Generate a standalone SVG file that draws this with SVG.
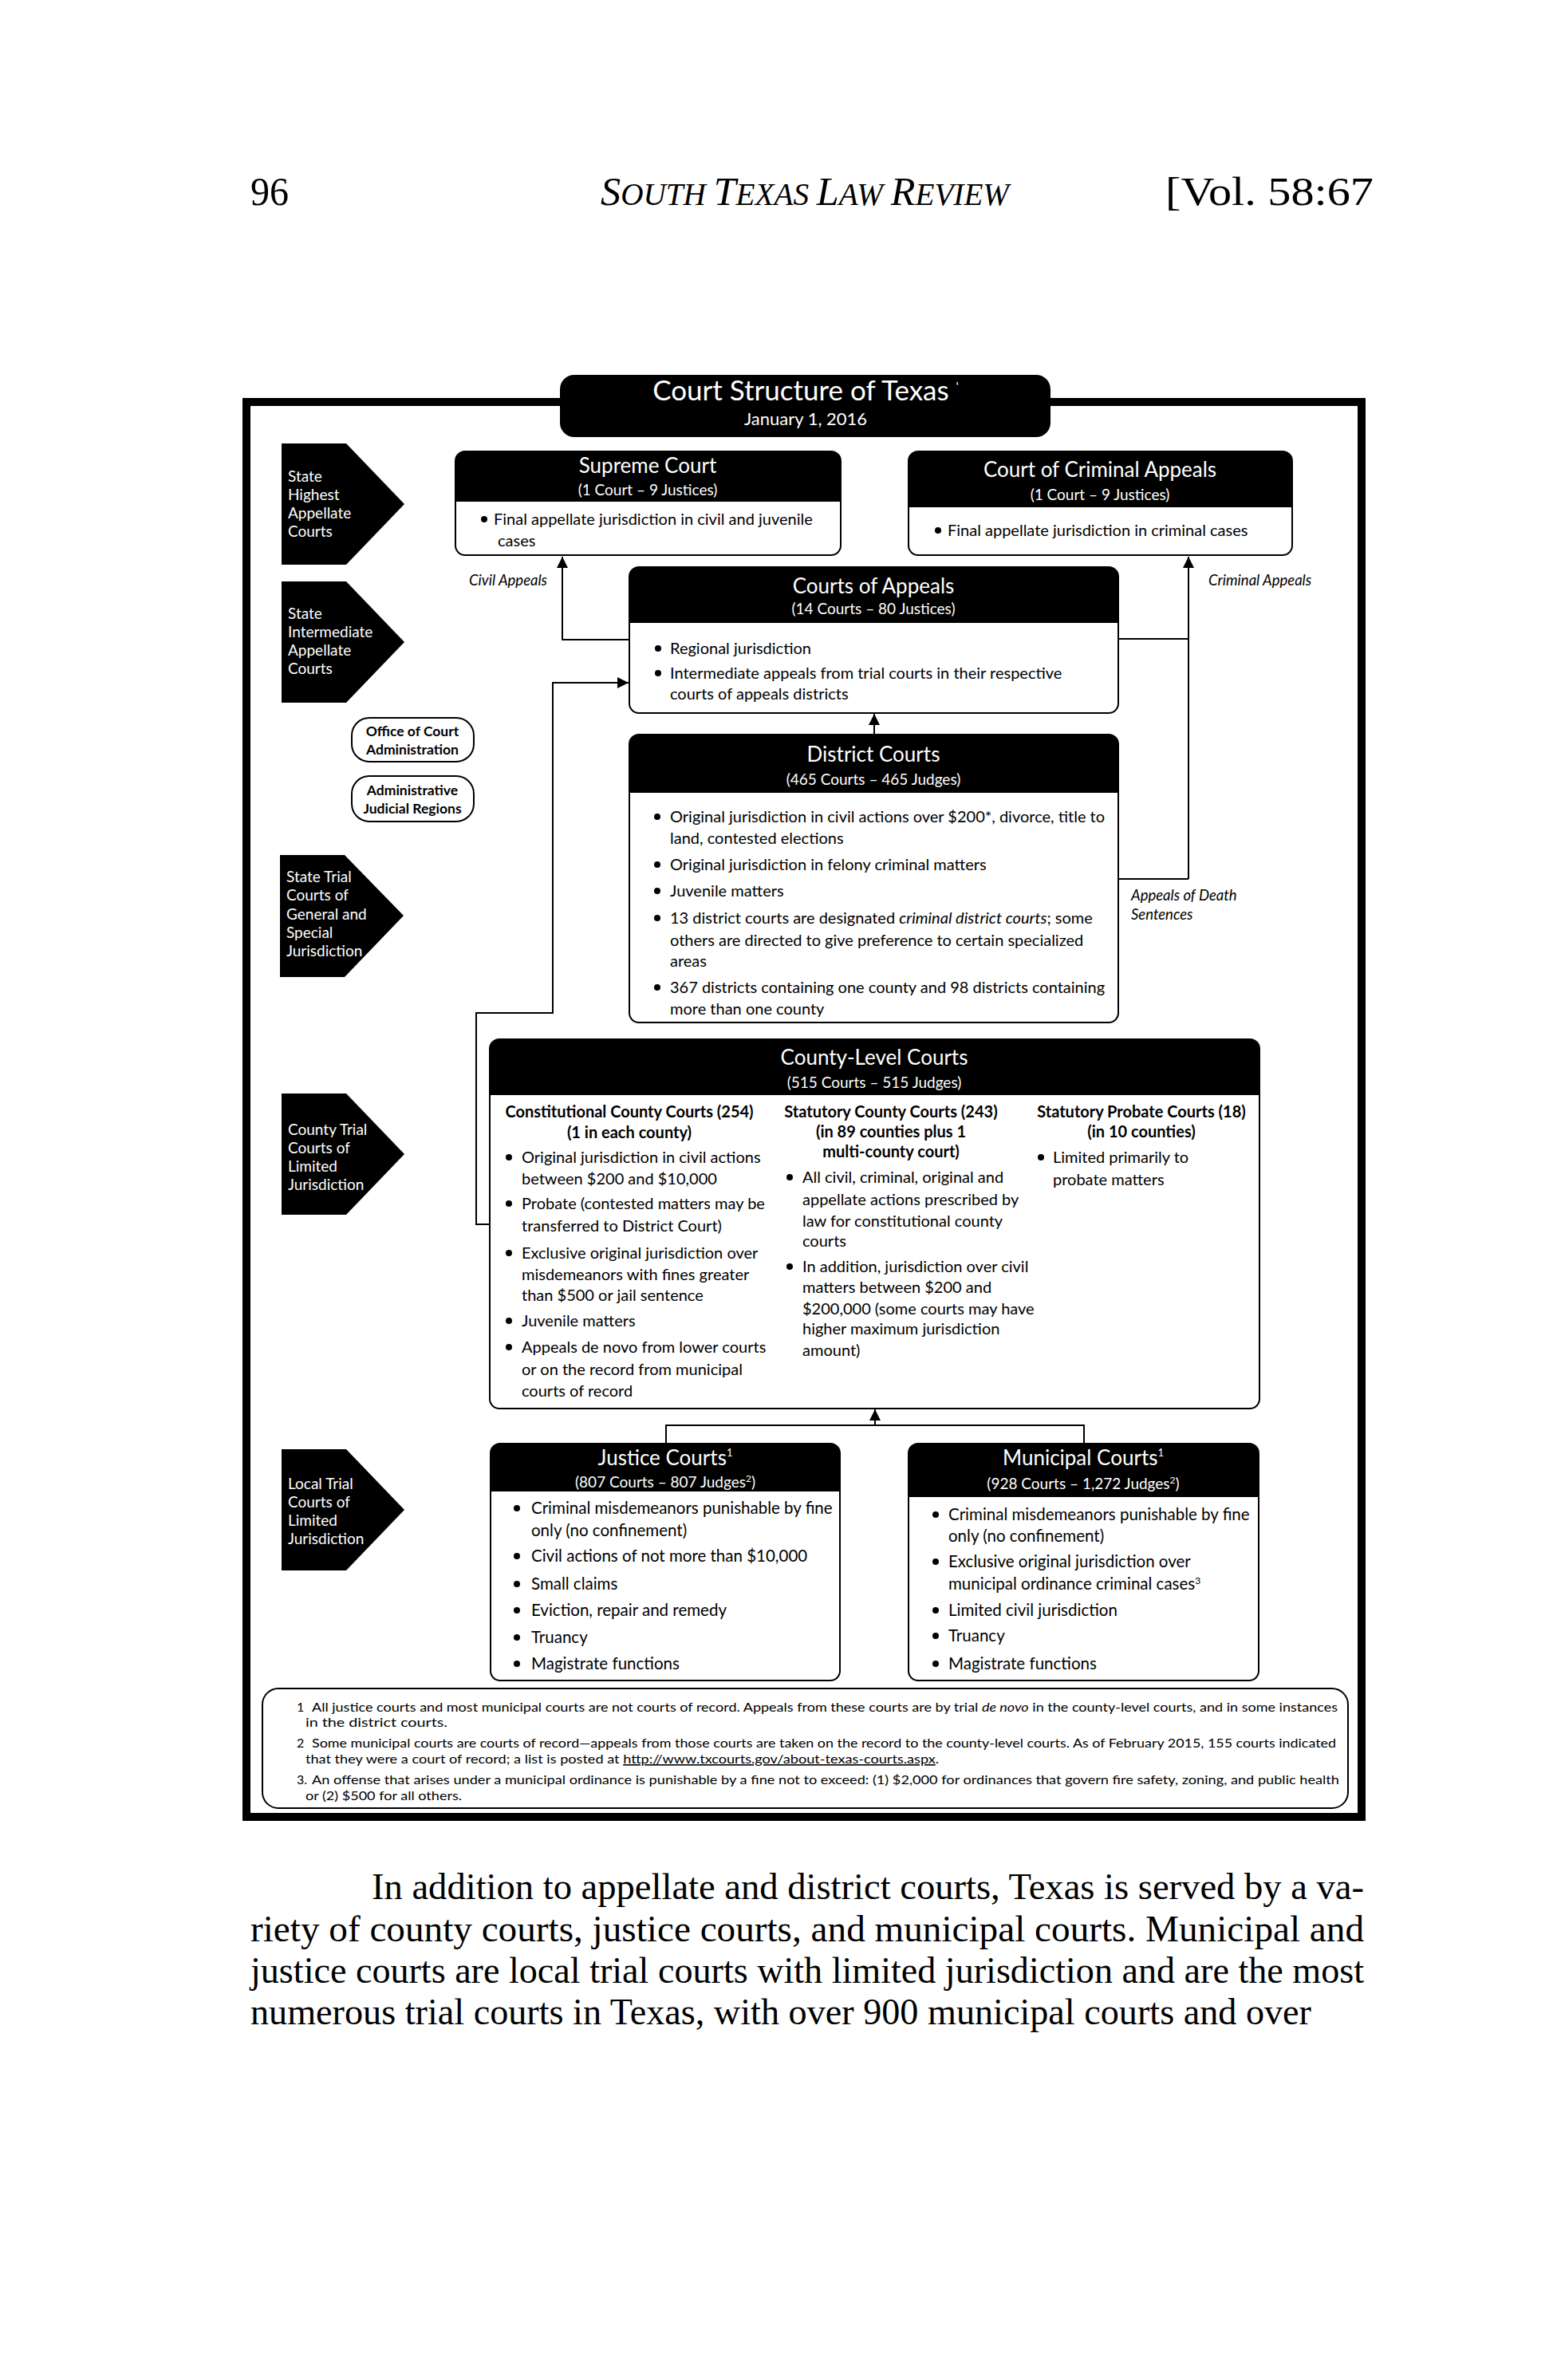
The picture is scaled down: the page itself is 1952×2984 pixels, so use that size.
<svg xmlns="http://www.w3.org/2000/svg" width="1952" height="2984" viewBox="0 0 1952 2984">
<defs>
<style>
.serif{font-family:"Liberation Serif","Times New Roman",serif;fill:#000}
.d{font-family:Lato,"Open Sans","Liberation Sans",sans-serif}
.ttl{font-size:26px;fill:#fff;text-anchor:middle}
.sub{font-size:19px;fill:#fff;text-anchor:middle}
.b{font-size:20px;fill:#000}
.bj{font-size:20.5px;fill:#000}
.ch{font-size:19px;fill:#fff}
.colh{font-size:20px;font-weight:bold;fill:#000;text-anchor:middle}
.ov{font-size:17.5px;font-weight:bold;fill:#000;text-anchor:middle}
.lab{font-size:18.5px;font-style:italic;fill:#000}
.fn{font-size:16px;fill:#000}
.box{fill:#fff;stroke:#000;stroke-width:2}
.hdr{fill:#000}
.chev{fill:#000}
.con{fill:none;stroke:#000;stroke-width:2}
</style>
<marker id="arr" markerUnits="userSpaceOnUse" markerWidth="16" markerHeight="14" refX="14" refY="7" orient="auto">
<path d="M0,0 L14,7 L0,14 Z" fill="#000"/>
</marker>
</defs>
<rect width="1952" height="2984" fill="#fff"/>

<g id="page-header" class="serif">
<text x="314" y="257" font-size="50" textLength="48" lengthAdjust="spacingAndGlyphs">96</text>
<text x="753" y="257" font-size="50" font-style="italic" textLength="512" lengthAdjust="spacingAndGlyphs">S<tspan font-size="39">OUTH </tspan>T<tspan font-size="39">EXAS </tspan>L<tspan font-size="39">AW </tspan>R<tspan font-size="39">EVIEW</tspan></text>
<text x="1461" y="257" font-size="50" textLength="261" lengthAdjust="spacingAndGlyphs">[Vol. 58:67</text>
</g>

<g id="frame">
<rect x="309" y="504" width="1398" height="1774" fill="none" stroke="#000" stroke-width="10"/>
</g>

<g id="title" class="d">
<rect x="702" y="470" width="615" height="78" rx="18" fill="#000"/>
<text x="1010" y="502" font-size="35" fill="#fff" text-anchor="middle">Court Structure of Texas <tspan font-size="16" dy="-12">'</tspan></text>
<text x="1010" y="533" font-size="22" fill="#fff" text-anchor="middle">January 1, 2016</text>
</g>

<g id="chevron-highest" class="d">
<polygon class="chev" points="353,556 434,556 507,632 434,708 353,708"/>
<text class="ch" x="361" y="604">State</text>
<text class="ch" x="361" y="627">Highest</text>
<text class="ch" x="361" y="650">Appellate</text>
<text class="ch" x="361" y="673">Courts</text>
</g>
<g id="chevron-intermediate" class="d">
<polygon class="chev" points="353,729 434,729 507,805 434,881 353,881"/>
<text class="ch" x="361" y="776">State</text>
<text class="ch" x="361" y="799">Intermediate</text>
<text class="ch" x="361" y="822">Appellate</text>
<text class="ch" x="361" y="845">Courts</text>
</g>
<g id="chevron-general" class="d">
<polygon class="chev" points="351,1072 432,1072 506,1148 432,1225 351,1225"/>
<text class="ch" x="359" y="1106">State Trial</text>
<text class="ch" x="359" y="1129">Courts of</text>
<text class="ch" x="359" y="1153">General and</text>
<text class="ch" x="359" y="1176">Special</text>
<text class="ch" x="359" y="1199">Jurisdiction</text>
</g>
<g id="chevron-county" class="d">
<polygon class="chev" points="353,1371 434,1371 507,1447 434,1523 353,1523"/>
<text class="ch" x="361" y="1423">County Trial</text>
<text class="ch" x="361" y="1446">Courts of</text>
<text class="ch" x="361" y="1469">Limited</text>
<text class="ch" x="361" y="1492">Jurisdiction</text>
</g>
<g id="chevron-local" class="d">
<polygon class="chev" points="353,1817 434,1817 507,1893 434,1969 353,1969"/>
<text class="ch" x="361" y="1867">Local Trial</text>
<text class="ch" x="361" y="1890">Courts of</text>
<text class="ch" x="361" y="1913">Limited</text>
<text class="ch" x="361" y="1936">Jurisdiction</text>
</g>

<g id="office-court-admin" class="d">
<rect class="box" x="441" y="900" width="153" height="55" rx="22"/>
<text class="ov" x="517" y="923">Office of Court</text>
<text class="ov" x="517" y="946">Administration</text>
</g>
<g id="admin-judicial-regions" class="d">
<rect class="box" x="441" y="973" width="153" height="57" rx="22"/>
<text class="ov" x="517" y="997">Administrative</text>
<text class="ov" x="517" y="1020">Judicial Regions</text>
</g>

<g id="connectors">
<path class="con" d="M789,802 H705 V698" marker-end="url(#arr)"/>
<path class="con" d="M1490,1102 V698" marker-end="url(#arr)"/>
<path class="con" d="M1402,801 H1490"/>
<path class="con" d="M1402,1102 H1490"/>
<path class="con" d="M1096,921 V895" marker-end="url(#arr)"/>
<path class="con" d="M614,1535 H597 V1270 H693 V856 H788" marker-end="url(#arr)"/>
<path class="con" d="M835,1810 V1787 H1359 V1810"/>
<path class="con" d="M1097,1787 V1767" marker-end="url(#arr)"/>
<text class="d lab" x="588" y="734">Civil Appeals</text>
<text class="d lab" x="1515" y="734">Criminal Appeals</text>
<text class="d lab" x="1418" y="1129">Appeals of Death</text>
<text class="d lab" x="1418" y="1153">Sentences</text>
</g>

<g id="supreme-court" class="d">
<rect class="box" x="571" y="566" width="483" height="130" rx="12"/>
<path class="hdr" d="M571,629 V578 A12,12 0 0 1 583,566 H1042 A12,12 0 0 1 1054,578 V629 Z"/>
<text class="ttl" x="812" y="593">Supreme Court</text>
<text class="sub" x="812" y="621">(1 Court – 9 Justices)</text>
<circle cx="607" cy="651" r="4"/>
<text class="b" x="619" y="658">Final appellate jurisdiction in civil and juvenile</text>
<text class="b" x="624" y="685">cases</text>
</g>

<g id="court-criminal-appeals" class="d">
<rect class="box" x="1139" y="566" width="481" height="130" rx="12"/>
<path class="hdr" d="M1139,636 V578 A12,12 0 0 1 1151,566 H1608 A12,12 0 0 1 1620,578 V636 Z"/>
<text class="ttl" x="1379" y="598" font-size="27">Court of Criminal Appeals</text>
<text class="sub" x="1379" y="627">(1 Court – 9 Justices)</text>
<circle cx="1176" cy="665" r="4"/>
<text class="b" x="1188" y="672">Final appellate jurisdiction in criminal cases</text>
</g>

<g id="courts-of-appeals" class="d">
<rect class="box" x="789" y="711" width="613" height="183" rx="12"/>
<path class="hdr" d="M789,781 V723 A12,12 0 0 1 801,711 H1390 A12,12 0 0 1 1402,723 V781 Z"/>
<text class="ttl" x="1095" y="744" font-size="27">Courts of Appeals</text>
<text class="sub" x="1095" y="770">(14 Courts – 80 Justices)</text>
<circle cx="825" cy="813" r="4"/>
<text class="b" x="840" y="820">Regional jurisdiction</text>
<circle cx="825" cy="844" r="4"/>
<text class="b" x="840" y="851">Intermediate appeals from trial courts in their respective</text>
<text class="b" x="840" y="877">courts of appeals districts</text>
</g>

<g id="district-courts" class="d">
<rect class="box" x="789" y="921" width="613" height="361" rx="12"/>
<path class="hdr" d="M789,994 V933 A12,12 0 0 1 801,921 H1390 A12,12 0 0 1 1402,933 V994 Z"/>
<text class="ttl" x="1095" y="955">District Courts</text>
<text class="sub" x="1095" y="984">(465 Courts – 465 Judges)</text>
<circle cx="824" cy="1024" r="4"/>
<text class="b" x="840" y="1031">Original jurisdiction in civil actions over $200*, divorce, title to</text>
<text class="b" x="840" y="1058">land, contested elections</text>
<circle cx="824" cy="1084" r="4"/>
<text class="b" x="840" y="1091">Original jurisdiction in felony criminal matters</text>
<circle cx="824" cy="1117" r="4"/>
<text class="b" x="840" y="1124">Juvenile matters</text>
<circle cx="824" cy="1151" r="4"/>
<text class="b" x="840" y="1158">13 district courts are designated <tspan font-style="italic">criminal district courts</tspan>; some</text>
<text class="b" x="840" y="1186">others are directed to give preference to certain specialized</text>
<text class="b" x="840" y="1212">areas</text>
<circle cx="824" cy="1238" r="4"/>
<text class="b" x="840" y="1245">367 districts containing one county and 98 districts containing</text>
<text class="b" x="840" y="1272">more than one county</text>
</g>

<g id="county-level-courts" class="d">
<rect class="box" x="614" y="1303" width="965" height="463" rx="12"/>
<path class="hdr" d="M614,1373 V1315 A12,12 0 0 1 626,1303 H1567 A12,12 0 0 1 1579,1315 V1373 Z"/>
<text class="ttl" x="1096" y="1335">County-Level Courts</text>
<text class="sub" x="1096" y="1364">(515 Courts – 515 Judges)</text>
<text class="colh" x="789" y="1401">Constitutional County Courts (254)</text>
<text class="colh" x="789" y="1427">(1 in each county)</text>
<circle cx="638" cy="1451" r="4"/>
<text class="b" x="654" y="1458">Original jurisdiction in civil actions</text>
<text class="b" x="654" y="1485">between $200 and $10,000</text>
<circle cx="638" cy="1509" r="4"/>
<text class="b" x="654" y="1516">Probate (contested matters may be</text>
<text class="b" x="654" y="1544">transferred to District Court)</text>
<circle cx="638" cy="1571" r="4"/>
<text class="b" x="654" y="1578">Exclusive original jurisdiction over</text>
<text class="b" x="654" y="1605">misdemeanors with fines greater</text>
<text class="b" x="654" y="1631">than $500 or jail sentence</text>
<circle cx="638" cy="1656" r="4"/>
<text class="b" x="654" y="1663">Juvenile matters</text>
<circle cx="638" cy="1689" r="4"/>
<text class="b" x="654" y="1696">Appeals de novo from lower courts</text>
<text class="b" x="654" y="1724">or on the record from municipal</text>
<text class="b" x="654" y="1751">courts of record</text>
<text class="colh" x="1117" y="1401">Statutory County Courts (243)</text>
<text class="colh" x="1117" y="1426">(in 89 counties plus 1</text>
<text class="colh" x="1117" y="1451">multi-county court)</text>
<circle cx="990" cy="1476" r="4"/>
<text class="b" x="1006" y="1483">All civil, criminal, original and</text>
<text class="b" x="1006" y="1511">appellate actions prescribed by</text>
<text class="b" x="1006" y="1538">law for constitutional county</text>
<text class="b" x="1006" y="1563">courts</text>
<circle cx="990" cy="1588" r="4"/>
<text class="b" x="1006" y="1595">In addition, jurisdiction over civil</text>
<text class="b" x="1006" y="1621">matters between $200 and</text>
<text class="b" x="1006" y="1648">$200,000 (some courts may have</text>
<text class="b" x="1006" y="1673">higher maximum jurisdiction</text>
<text class="b" x="1006" y="1700">amount)</text>
<text class="colh" x="1431" y="1401">Statutory Probate Courts (18)</text>
<text class="colh" x="1431" y="1426">(in 10 counties)</text>
<circle cx="1305" cy="1451" r="4"/>
<text class="b" x="1320" y="1458">Limited primarily to</text>
<text class="b" x="1320" y="1486">probate matters</text>
</g>

<g id="justice-courts" class="d">
<rect class="box" x="615" y="1810" width="438" height="297" rx="12"/>
<path class="hdr" d="M615,1870 V1822 A12,12 0 0 1 627,1810 H1041 A12,12 0 0 1 1053,1822 V1870 Z"/>
<text class="ttl" x="834" y="1837" font-size="25">Justice Courts<tspan font-size="13" dy="-11">1</tspan></text>
<text class="sub" x="834" y="1865">(807 Courts – 807 Judges<tspan font-size="12" dy="-7">2</tspan><tspan dy="7">)</tspan></text>
<circle cx="648" cy="1891" r="4"/>
<text class="bj" x="666" y="1898">Criminal misdemeanors punishable by fine</text>
<text class="bj" x="666" y="1926">only (no confinement)</text>
<circle cx="648" cy="1951" r="4"/>
<text class="bj" x="666" y="1958">Civil actions of not more than $10,000</text>
<circle cx="648" cy="1986" r="4"/>
<text class="bj" x="666" y="1993">Small claims</text>
<circle cx="648" cy="2019" r="4"/>
<text class="bj" x="666" y="2026">Eviction, repair and remedy</text>
<circle cx="648" cy="2053" r="4"/>
<text class="bj" x="666" y="2060">Truancy</text>
<circle cx="648" cy="2086" r="4"/>
<text class="bj" x="666" y="2093">Magistrate functions</text>
</g>

<g id="municipal-courts" class="d">
<rect class="box" x="1139" y="1810" width="439" height="297" rx="12"/>
<path class="hdr" d="M1139,1877 V1822 A12,12 0 0 1 1151,1810 H1566 A12,12 0 0 1 1578,1822 V1877 Z"/>
<text class="ttl" x="1358" y="1837" font-size="25">Municipal Courts<tspan font-size="13" dy="-11">1</tspan></text>
<text class="sub" x="1358" y="1867">(928 Courts – 1,272 Judges<tspan font-size="12" dy="-7">2</tspan><tspan dy="7">)</tspan></text>
<circle cx="1173" cy="1899" r="4"/>
<text class="bj" x="1189" y="1906">Criminal misdemeanors punishable by fine</text>
<text class="bj" x="1189" y="1933">only (no confinement)</text>
<circle cx="1173" cy="1958" r="4"/>
<text class="bj" x="1189" y="1965">Exclusive original jurisdiction over</text>
<text class="bj" x="1189" y="1993">municipal ordinance criminal cases<tspan font-size="12" dy="-7">3</tspan></text>
<circle cx="1173" cy="2019" r="4"/>
<text class="bj" x="1189" y="2026">Limited civil jurisdiction</text>
<circle cx="1173" cy="2051" r="4"/>
<text class="bj" x="1189" y="2058">Truancy</text>
<circle cx="1173" cy="2086" r="4"/>
<text class="bj" x="1189" y="2093">Magistrate functions</text>
</g>

<g id="footnotes" class="d">
<rect class="box" x="329" y="2117" width="1361" height="150" rx="20"/>
<text class="fn" x="372" y="2146">1</text>
<text class="fn" x="391" y="2146" textLength="1286" lengthAdjust="spacingAndGlyphs">All justice courts and most municipal courts are not courts of record. Appeals from these courts are by trial <tspan font-style="italic">de novo</tspan> in the county-level courts, and in some instances</text>
<text class="fn" x="383" y="2165" textLength="178" lengthAdjust="spacingAndGlyphs">in the district courts.</text>
<text class="fn" x="372" y="2191">2</text>
<text class="fn" x="391" y="2191" textLength="1284" lengthAdjust="spacingAndGlyphs">Some municipal courts are courts of record—appeals from those courts are taken on the record to the county-level courts. As of February 2015, 155 courts indicated</text>
<text class="fn" x="383" y="2211" textLength="794" lengthAdjust="spacingAndGlyphs">that they were a court of record; a list is posted at <tspan text-decoration="underline">http://www.txcourts.gov/about-texas-courts.aspx</tspan>.</text>
<text class="fn" x="372" y="2237">3.</text>
<text class="fn" x="391" y="2237" textLength="1288" lengthAdjust="spacingAndGlyphs">An offense that arises under a municipal ordinance is punishable by a fine not to exceed: (1) $2,000 for ordinances that govern fire safety, zoning, and public health</text>
<text class="fn" x="383" y="2257" textLength="196" lengthAdjust="spacingAndGlyphs">or (2) $500 for all others.</text>
</g>

<g id="body-text" class="serif" font-size="46">
<text x="466" y="2381" textLength="1244" lengthAdjust="spacingAndGlyphs">In addition to appellate and district courts, Texas is served by a va-</text>
<text x="314" y="2434" textLength="1396" lengthAdjust="spacingAndGlyphs">riety of county courts, justice courts, and municipal courts. Municipal and</text>
<text x="314" y="2486" textLength="1396" lengthAdjust="spacingAndGlyphs">justice courts are local trial courts with limited jurisdiction and are the most</text>
<text x="314" y="2538" textLength="1330" lengthAdjust="spacingAndGlyphs">numerous trial courts in Texas, with over 900 municipal courts and over</text>
</g>
</svg>
